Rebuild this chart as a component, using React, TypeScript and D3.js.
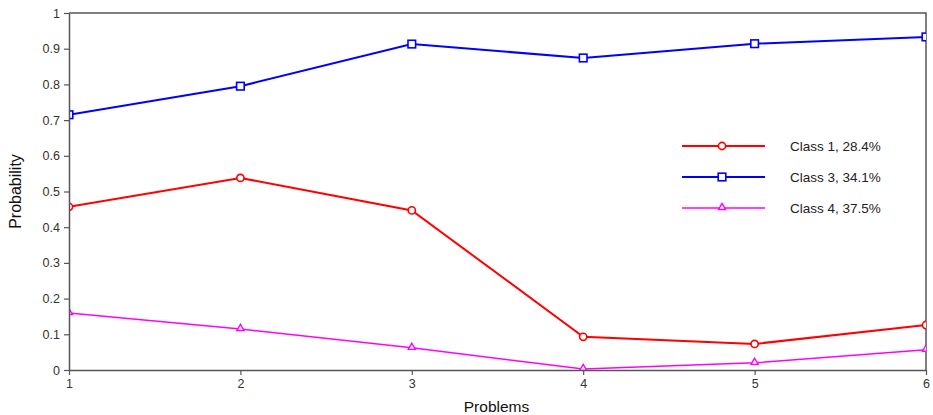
import React, { useRef, useEffect } from 'react';
import * as d3 from 'd3';

const problems = [1, 2, 3, 4, 5, 6];
const class1 = [0.457, 0.538, 0.447, 0.093, 0.073, 0.126];
const class3 = [0.715, 0.795, 0.913, 0.874, 0.914, 0.933];
const class4 = [0.16, 0.115, 0.062, 0.003, 0.02, 0.057];
const yTicks = [0, 0.1, 0.2, 0.3, 0.4, 0.5, 0.6, 0.7, 0.8, 0.9, 1];

const series = [
  { name: 'Class 1, 28.4%', values: class1, color: '#ff0000', marker: 'circle', width: 2 },
  { name: 'Class 3, 34.1%', values: class3, color: '#0000ff', marker: 'square', width: 2 },
  { name: 'Class 4, 37.5%', values: class4, color: '#ff00ff', marker: 'triangle', width: 1.5 },
];

const W = 933;
const H = 415;

const App = () => {
  const svgRef = useRef<SVGSVGElement | null>(null);

  useEffect(() => {
    if (!svgRef.current) return;
    const svg = d3.select(svgRef.current);
    svg.selectAll('*').remove();

    const margin = { top: 13, right: 7, bottom: 45, left: 70 };
    const x = d3.scaleLinear().domain([1, 6]).range([margin.left - 1, W - margin.right]);
    const y = d3.scaleLinear().domain([0, 1]).range([H - margin.bottom, margin.top]);

    const font = 'Arial, "Liberation Sans", sans-serif';
    const axisColor = '#555';

    svg.append('defs').append('clipPath').attr('id', 'plotClip')
      .append('rect')
      .attr('x', x(1)).attr('y', y(1))
      .attr('width', x(6) - x(1)).attr('height', y(0) - y(1));

    // frame top/right
    svg.append('path')
      .attr('d', `M${x(1)},${y(1)}H${x(6)}V${y(0)}`)
      .attr('fill', 'none').attr('stroke', axisColor).attr('stroke-width', 1.5);

    const plot = svg.append('g').attr('clip-path', 'url(#plotClip)');

    const drawMarker = (g: any, type: string, cx: number, cy: number, color: string) => {
      if (type === 'circle') {
        g.append('circle').attr('cx', cx).attr('cy', cy).attr('r', 3.6)
          .attr('fill', '#fff').attr('stroke', color).attr('stroke-width', 1.6);
      } else if (type === 'square') {
        g.append('rect').attr('x', cx - 3.8).attr('y', cy - 3.8).attr('width', 7.6).attr('height', 7.6)
          .attr('fill', '#fff').attr('stroke', color).attr('stroke-width', 1.6);
      } else {
        const s = d3.symbol().type(d3.symbolTriangle).size(22);
        g.append('path').attr('d', s()).attr('transform', `translate(${cx},${cy - 0.5})`)
          .attr('fill', '#fff').attr('stroke', color).attr('stroke-width', 1.4);
      }
    };

    const line = d3.line<number>().x((_, i) => x(problems[i])).y(d => y(d));

    series.forEach(s => {
      plot.append('path').datum(s.values).attr('d', line)
        .attr('fill', 'none').attr('stroke', s.color).attr('stroke-width', s.width);
      s.values.forEach((v, i) => drawMarker(plot, s.marker, x(problems[i]), y(v), s.color));
    });

    // axes
    const yAxis = svg.append('g').attr('transform', `translate(${x(1)},0)`)
      .call(d3.axisLeft(y).tickValues(yTicks).tickSize(5).tickSizeOuter(0).tickFormat(d => d3.format('')(+d)));
    const xAxis = svg.append('g').attr('transform', `translate(0,${y(0)})`)
      .call(d3.axisBottom(x).tickValues(problems).tickSize(5).tickSizeOuter(0).tickFormat(d3.format('d')));
    [yAxis, xAxis].forEach(a => {
      a.select('.domain').attr('stroke', axisColor).attr('stroke-width', 1.5);
      a.selectAll('.tick line').attr('stroke', axisColor).attr('stroke-width', 1.2);
      a.selectAll('.tick text').attr('fill', '#333').style('font-family', font).style('font-size', '12.5px');
    });
    yAxis.selectAll('.tick text').attr('x', -9);
    xAxis.selectAll('.tick text').attr('y', 9);

    svg.append('text')
      .attr('transform', `translate(21,${(y(0) + y(1)) / 2}) rotate(-90)`)
      .attr('text-anchor', 'middle').attr('fill', '#111')
      .style('font-family', font).style('font-size', '16px')
      .text('Probability');

    svg.append('text')
      .attr('x', (x(1) + x(6)) / 2 - 1).attr('y', 412)
      .attr('text-anchor', 'middle').attr('fill', '#111')
      .style('font-family', font).style('font-size', '15.5px')
      .text('Problems');

    // legend
    const legend = svg.append('g');
    series.forEach((s, i) => {
      const ly = 146 + i * 31;
      legend.append('line').attr('x1', 682).attr('x2', 765).attr('y1', ly).attr('y2', ly)
        .attr('stroke', s.color).attr('stroke-width', s.width);
      drawMarker(legend, s.marker, 722, ly, s.color);
      legend.append('text').attr('x', 790).attr('y', ly).attr('dy', '0.35em')
        .attr('fill', '#222').style('font-family', font).style('font-size', '13.5px')
        .text(s.name);
    });
  }, []);

  return (
    <svg ref={svgRef} width={W} height={H}
      style={{ position: 'absolute', left: 0, top: 0, background: '#fff' }} />
  );
};

export default App;
